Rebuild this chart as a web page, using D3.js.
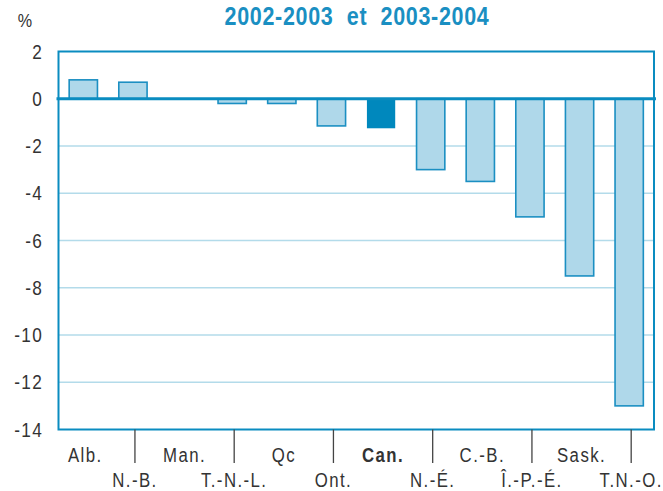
<!DOCTYPE html>
<html>
<head>
<meta charset="utf-8">
<script src="https://cdn.jsdelivr.net/npm/d3@7"></script>
<style>
  body { margin: 0; background: #fff; }
  text { font-family: "Liberation Sans", Arial, sans-serif; }
</style>
</head>
<body>
<svg id="chart" width="663" height="491"></svg>
<script>
// provinces / territoires, in chart order
const regions = ['Alb.', 'N.-B.', 'Man.', 'T.-N.-L.', 'Qc', 'Ont.', 'Can.', 'N.-É.', 'C.-B.', 'Î.-P.-É.', 'Sask.', 'T.N.-O.'];
const change = [0.8, 0.7, 0, -0.2, -0.2, -1.15, -1.25, -3.0, -3.5, -5.0, -7.5, -13.0];
const yTicks = [2, 0, -2, -4, -6, -8, -10, -12, -14];
const title = '2002-2003  et  2003-2004';

const svg = d3.select('#chart');
const plotL = 58.5, plotR = 654, plotT = 51.5, plotB = 429.5;

var xScale = d3.scaleBand(regions, [plotL, plotR]).paddingInner(0.43).paddingOuter(0.215),
    yScale = d3.scaleLinear([-14, 2], [plotB, plotT]);

var blue = '#0a8cc0';

// narrow text: the source uses a condensed face, so squeeze horizontally
var narrow = function(sel, x, y, sx) {
  return sel.attr('x', null).attr('y', null)
      .attr('transform', (d, i) => 'translate(' + x(d, i) + ',' + y(d, i) + ') scale(' + sx + ',1)');
};

// gridlines
svg.append('g')
    .selectAll('line')
    .data(yTicks.filter(d => d < 0 && d > -14))
    .enter()
    .append('line')
    .attr('x1', plotL).attr('x2', plotR)
    .attr('y1', d => yScale(d)).attr('y2', d => yScale(d))
    .attr('stroke', '#b3dbea')
    .attr('stroke-width', 1.5);

// bars
svg.append('g')
    .selectAll('rect')
    .data(regions.map((r, i) => ({ r: r, v: change[i] })).filter(d => d.v !== 0))
    .enter()
    .append('rect')
    .attr('x', d => xScale(d.r))
    .attr('width', xScale.bandwidth())
    .attr('y', d => yScale(Math.max(0, d.v)))
    .attr('height', d => Math.abs(yScale(d.v) - yScale(0)))
    .attr('fill', d => d.r === 'Can.' ? '#0088bd' : '#afd8ea')
    .attr('stroke', d => d.r === 'Can.' ? 'none' : '#1b8fc2')
    .attr('stroke-width', 1.6);

// frame
svg.append('rect')
    .attr('x', plotL).attr('y', plotT)
    .attr('width', plotR - plotL).attr('height', plotB - plotT)
    .attr('fill', 'none')
    .attr('stroke', blue)
    .attr('stroke-width', 2);

// zero line
svg.append('line')
    .attr('x1', plotL - 2).attr('x2', plotR + 2)
    .attr('y1', yScale(0)).attr('y2', yScale(0))
    .attr('stroke', blue)
    .attr('stroke-width', 3);

// y labels
svg.append('g')
    .selectAll('text')
    .data(yTicks)
    .enter()
    .append('text')
    .attr('text-anchor', 'end')
    .attr('font-size', 20)
    .attr('fill', '#333')
    .style('letter-spacing', '1.5px')
    .text(d => d)
    .call(narrow, () => 43, d => yScale(d) + 7, 0.86);

svg.append('text')
    .attr('text-anchor', 'middle')
    .attr('font-size', 19)
    .attr('fill', '#333')
    .text('%')
    .call(narrow, () => 25, () => 27, 0.85);

var cx = d => xScale(d) + xScale.bandwidth() / 2 + 2;

// category separators under odd categories
svg.append('g')
    .selectAll('line')
    .data(regions.filter((r, i) => i % 2 === 1))
    .enter()
    .append('line')
    .attr('x1', cx).attr('x2', cx)
    .attr('y1', plotB).attr('y2', 463)
    .attr('stroke', '#444')
    .attr('stroke-width', 1.3);

// category labels, two rows
svg.append('g')
    .selectAll('text')
    .data(regions)
    .enter()
    .append('text')
    .attr('text-anchor', 'middle')
    .attr('font-size', 21)
    .attr('font-weight', d => d === 'Can.' ? 'bold' : 'normal')
    .attr('fill', '#333')
    .style('letter-spacing', '1.8px')
    .text(d => d)
    .call(narrow, cx, (d, i) => i % 2 === 0 ? 462 : 487, 0.8);

// title
svg.append('text')
    .attr('text-anchor', 'middle')
    .attr('font-size', 25)
    .attr('font-weight', 'bold')
    .attr('fill', '#1a8fc2')
    .style('letter-spacing', '0.8px')
    .style('white-space', 'pre')
    .text(title)
    .call(narrow, () => 357, () => 25, 0.86);
</script>
</body>
</html>
